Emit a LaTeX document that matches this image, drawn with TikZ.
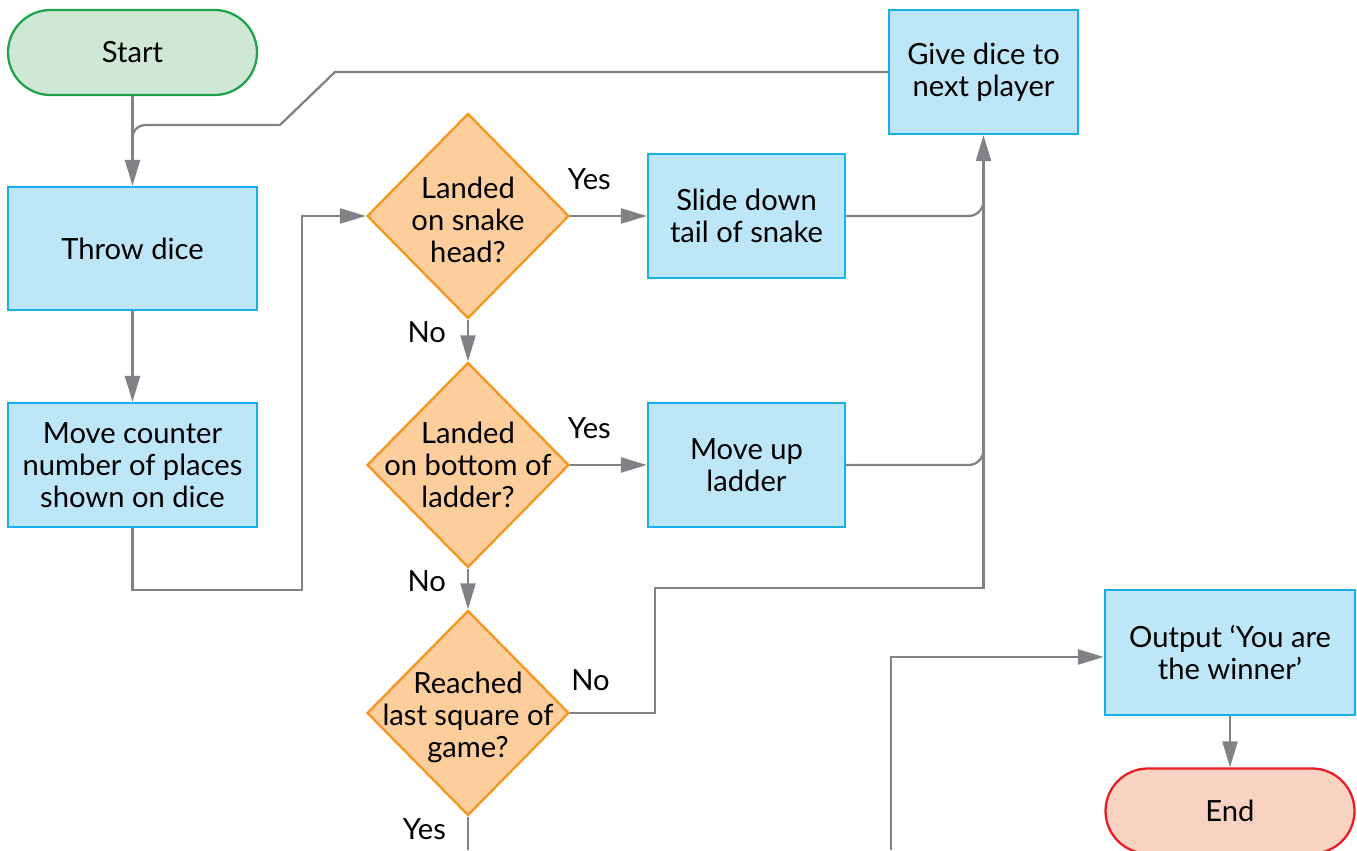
\documentclass[tikz,border=0pt]{standalone}
\usepackage{fontspec}
\setmainfont{Lato}
\usetikzlibrary{shapes.geometric,arrows.meta,positioning}
\definecolor{boxblue}{HTML}{BDE6F9}
\definecolor{edgeblue}{HTML}{1AAEE8}
\definecolor{startgreen}{HTML}{CFE8D6}
\definecolor{edgegreen}{HTML}{1EA34A}
\definecolor{askorange}{HTML}{FDCE9C}
\definecolor{edgeorange}{HTML}{F7941E}
\definecolor{endred}{HTML}{F9D3C2}
\definecolor{edgered}{HTML}{EC1C24}
\definecolor{linegray}{HTML}{808285}

\begin{document}
\begin{tikzpicture}[font=\fontsize{16.6}{18.2}\selectfont,
    process/.style={draw=edgeblue,fill=boxblue,line width=1.3pt,align=center,inner sep=0pt},
    terminal/.style={line width=1.3pt,rounded corners=0.85cm,minimum width=4.98cm,minimum height=1.7cm},
    decision/.style={diamond,draw=edgeorange,fill=askorange,line width=1.3pt,
          minimum width=4.04cm,minimum height=4.1cm,inner sep=0pt},
    asktext/.style={align=center,yshift=-0.08cm},
    line/.style={draw=linegray,line width=1.3pt},
    arrow/.style={line,-{Triangle[length=0.52cm,width=0.3cm]}}]
    \useasboundingbox (0,0) rectangle (27.14,17);

    % terminals and boxes
    \node[terminal,draw=edgegreen,fill=startgreen] (start) at (2.65,15.95) {Start};
    \node[process,minimum width=4.98cm,minimum height=2.46cm] (throw) at (2.65,12.03) {Throw dice};
    \node[process,minimum width=4.98cm,minimum height=2.48cm] (move) at (2.65,7.7)
          {Move counter\\number of places\\shown on dice};

    \node[decision,label={[asktext]center:Landed\\on snake\\head?}] (snake) at (9.36,12.68) {};
    \node[decision,label={[asktext,yshift=0.08cm]center:Landed\\on bottom of\\ladder?}] (ladder) at (9.36,7.7) {};
    \node[decision,label={[asktext]center:Reached\\last square of\\game?}] (last) at (9.36,2.74) {};

    \node[process,minimum width=3.94cm,minimum height=2.48cm] (slide) at (14.93,12.68)
          {Slide down\\tail of snake};
    \node[process,minimum width=3.94cm,minimum height=2.48cm] (climb) at (14.93,7.7)
          {Move up\\ladder};
    \node[process,minimum width=3.78cm,minimum height=2.48cm] (give) at (19.67,15.56)
          {Give dice to\\next player};
    \node[process,minimum width=5cm,minimum height=2.5cm] (output) at (24.6,3.95)
          {Output `You are\\the winner'};
    \node[terminal,draw=edgered,fill=endred] (end) at (24.6,0.78) {End};

    % bends
    \coordinate (bend1) at (6.7,15.56);
    \coordinate (bend2) at (5.6,14.5);
    \coordinate (c1) at (6.04,5.2);
    \coordinate (c2) at (13.1,5.24);
    \coordinate (yesout) at (9.36,0);
    \coordinate (loopin) at (17.82,0);

    % connectors
    \draw[arrow] (start) -- (throw);
    \draw[line] (give.west) -- (bend1) -- (bend2);
    \draw[line,rounded corners=0.25cm] (bend2) -- (bend2 -| throw.north) -- ([yshift=-0.5cm]bend2 -| throw.north);
    \draw[arrow] (throw) -- (move);
    \draw[arrow] (move.south) |- (c1) |- (snake.west);

    \draw[arrow] (snake.east) -- node[pos=0.25,above=0.38cm] {Yes} (slide.west);
    \draw[arrow] (snake.south) -- node[pos=0.3,left=0.3cm] {No} (ladder.north);
    \draw[arrow] (ladder.east) -- node[pos=0.25,above=0.38cm] {Yes} (climb.west);
    \draw[arrow] (ladder.south) -- node[pos=0.3,left=0.3cm] {No} (last.north);
    \draw[arrow] (last.east) -| node[pos=0.12,above=0.3cm] {No} (c2) -| (give.south);
    \draw[line] (last.south) -- node[pos=0.37,left=0.3cm] {Yes} (yesout);

    \draw[line,rounded corners=0.3cm] (slide.east) -| ([yshift=0.4cm]slide.east -| give.south);
    \draw[line,rounded corners=0.3cm] (climb.east) -| ([yshift=0.4cm]climb.east -| give.south);

    \draw[arrow] (loopin) |- ([yshift=-0.09cm]output.west);
    \draw[arrow] (output) -- (end);
  \end{tikzpicture}
\end{document}
